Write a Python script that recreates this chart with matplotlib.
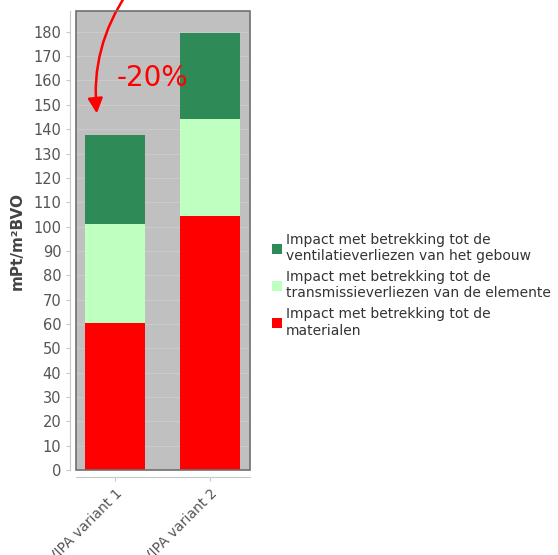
import matplotlib
matplotlib.use("Agg")
import matplotlib.pyplot as plt
from matplotlib.patches import Rectangle
import numpy as np

categories = ["VIPA variant 1", "VIPA variant 2"]
materialen = [60.5, 104.5]
transmissie = [40.5, 39.5]
ventilatie = [36.5, 35.5]
series_labels = [
    "Impact met betrekking tot de\nventilatieverliezen van het gebouw",
    "Impact met betrekking tot de\ntransmissieverliezen van de elemente",
    "Impact met betrekking tot de\nmaterialen",
]
y_ticks = list(range(0, 181, 10))
change_label = "-20%"

fig = plt.figure(figsize=(5.58, 5.55), dpi=100)
ax = fig.add_axes([0.136, 0.153, 0.312, 0.827])
ax.set_facecolor("#c0c0c0")

x = np.arange(len(categories))
w = 0.63
b1 = ax.bar(x, materialen, w, color="#ff0000", zorder=3)
b2 = ax.bar(x, transmissie, w, bottom=materialen, color="#bfffbf", zorder=3)
bottom3 = np.array(materialen) + np.array(transmissie)
b3 = ax.bar(x, ventilatie, w, bottom=bottom3, color="#2e8b57", zorder=3)

ax.set_xlim(-0.41, 1.42)
ax.set_ylim(0, 188.5)
ax.set_yticks(y_ticks)
ax.yaxis.grid(True, color="#cccccc", linewidth=0.6, zorder=0)

for s in ["top", "right"]:
    ax.spines[s].set_visible(False)
ax.spines["left"].set_position(("outward", 4))
ax.spines["bottom"].set_position(("outward", 5))
ax.spines["left"].set_color("#c8c8c8")
ax.spines["bottom"].set_color("#c8c8c8")
ax.add_patch(Rectangle((0, 0), 1, 1, transform=ax.transAxes, fill=False,
                       edgecolor="#707070", linewidth=1.2, zorder=5, clip_on=False))

ax.tick_params(axis="y", colors="#c8c8c8", labelcolor="#555555", labelsize=10.5, length=3)
ax.tick_params(axis="x", colors="#c8c8c8", labelcolor="#555555", labelsize=10, length=3)
ax.set_xticks(x)
ax.set_xticklabels(categories, rotation=45, ha="right", rotation_mode="anchor")
ax.set_ylabel("mPt/m²BVO", color="#444444", fontsize=11, fontweight="bold", labelpad=6)

ax.annotate("", xy=(-0.19, 146.5), xytext=(0.13, 196),
            xycoords="data", textcoords="data",
            arrowprops=dict(arrowstyle="-|>,head_length=0.9,head_width=0.45",
                            color="#ff0000", lw=1.8, shrinkA=0, shrinkB=0,
                            connectionstyle="arc3,rad=0.18"),
            annotation_clip=False)
ax.text(0.02, 161, change_label, color="#ff0000", fontsize=20, ha="left", va="center", zorder=6)

handles = [b3, b2, b1]
leg = fig.legend(handles, series_labels, loc="upper left", bbox_to_anchor=(0.478, 0.59),
                 frameon=False, fontsize=10, handlelength=0.7, handleheight=0.7,
                 handletextpad=0.3, labelspacing=0.5, borderaxespad=0)
for t in leg.get_texts():
    t.set_color("#333333")

fig.savefig("out.png", dpi=100)
